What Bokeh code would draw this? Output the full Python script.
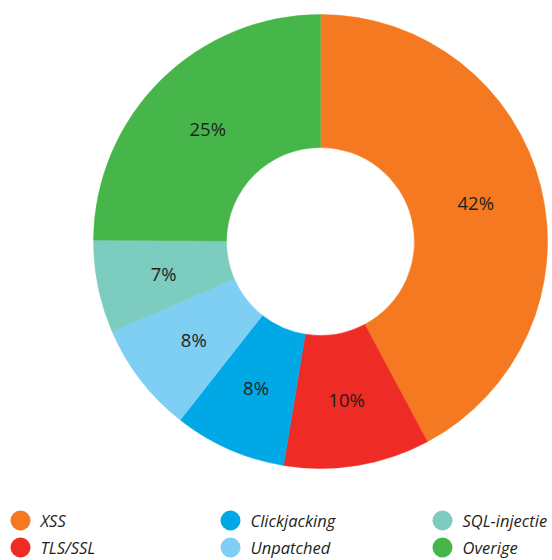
import math
from bokeh.plotting import figure
from bokeh.models import Range1d, ColumnDataSource
from bokeh.core.properties import value
from bokeh.embed import file_html
from bokeh.resources import INLINE

categories = ["XSS", "TLS/SSL", "Clickjacking", "Unpatched", "SQL-injectie", "Overige"]
values = [42.2, 10.4, 8.0, 7.9, 6.6, 24.9]
colors = ["#F47920", "#EE2B24", "#00A8E6", "#7FCEF3", "#7CCCBF", "#46B64B"]

W, H = 552, 560
p = figure(width=W, height=H, output_backend="svg", toolbar_location=None,
           x_range=Range1d(0, W), y_range=Range1d(0, H), min_border=0)
p.axis.visible = False
p.grid.visible = False
p.outline_line_color = None
p.background_fill_color = "white"

cx, cy = 320, H - 241
r_out, r_in = 227, 94
total = sum(values)
starts, ends, lx, ly, labels = [], [], [], [], []
cum = 0
for v in values:
    a0 = math.pi / 2 - 2 * math.pi * cum / total
    a1 = math.pi / 2 - 2 * math.pi * (cum + v) / total
    starts.append(a0)
    ends.append(a1)
    mid = (a0 + a1) / 2
    lx.append(cx + 160 * math.cos(mid))
    ly.append(cy + 160 * math.sin(mid))
    labels.append(f"{round(100 * v / total)}%")
    cum += v

src = ColumnDataSource(dict(start=starts, end=ends, color=colors))
p.annular_wedge(x=cx, y=cy, inner_radius=r_in, outer_radius=r_out,
                start_angle="start", end_angle="end", direction="clock",
                fill_color="color", line_color="color", line_width=0.5, source=src)

p.text(x=lx, y=ly, text=labels, text_align="center", text_baseline="middle",
       text_font=value("Open Sans"), text_font_size="18.5px", text_color="#231F20")

# legend
col_x = [20, 230, 442]
row_y = [H - 520, H - 547]
mx, my, tx, ty = [], [], [], []
for i in range(len(categories)):
    c, r = divmod(i, 2)
    mx.append(col_x[c])
    my.append(row_y[r])
    tx.append(col_x[c] + 20)
    ty.append(row_y[r])
p.scatter(x=mx, y=my, size=20, marker="circle", fill_color=colors, line_color=None)
p.text(x=tx, y=ty, text=categories, text_align="left", text_baseline="middle",
       text_font=value("Open Sans"), text_font_style="italic",
       text_font_size="16.5px", text_color="#231F20")

open("out.html", "w").write(file_html(p, INLINE))
